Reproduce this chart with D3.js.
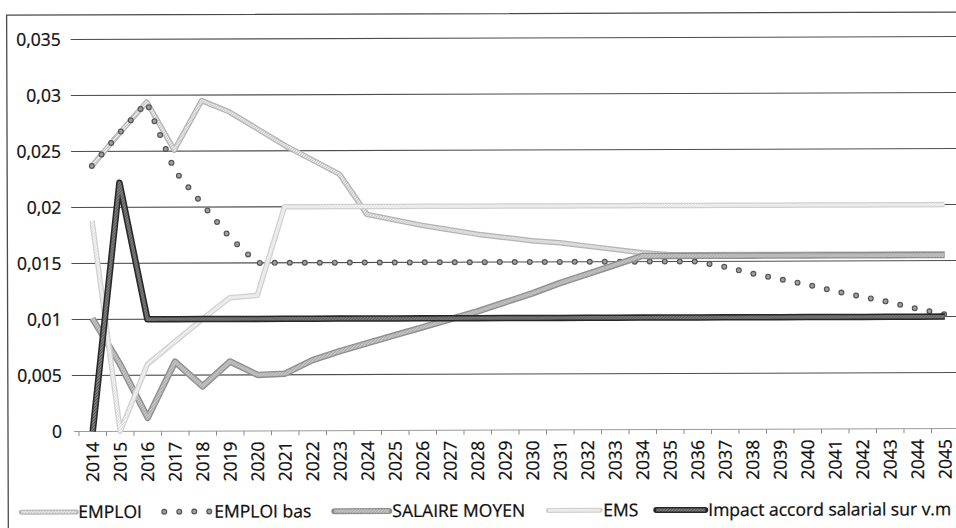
<!DOCTYPE html>
<html><head><meta charset="utf-8">
<script src="https://cdn.jsdelivr.net/npm/d3@7"></script>
<style>
body{margin:0;background:#fff}
svg{display:block}
text{font-family:"Open Sans",sans-serif;fill:#0d0d0d;stroke:#0d0d0d;stroke-width:0.25px}
</style>
</head><body>
<svg id="c" width="956" height="528"></svg>
<script>
const years = [2014,2015,2016,2017,2018,2019,2020,2021,2022,2023,2024,2025,2026,2027,2028,2029,2030,2031,2032,2033,2034,2035,2036,2037,2038,2039,2040,2041,2042,2043,2044,2045];
const emploi = [0.0237,0.0266,0.0294,0.0251,0.0295,0.0285,0.0270,0.0255,0.0242,0.0229,0.0193,0.0188,0.0183,0.0179,0.0175,0.0172,0.0169,0.0167,0.0164,0.0161,0.0158,0.0156,0.0156,0.0156,0.0156,0.0156,0.0156,0.0156,0.0156,0.0156,0.0156,0.0156];
const emploiBas = [0.0237,0.0266,0.0294,0.0233,0.0203,0.0173,0.0150,0.0150,0.0150,0.0150,0.0150,0.0150,0.0150,0.0150,0.0150,0.0150,0.0150,0.0150,0.0150,0.0150,0.0150,0.0150,0.0150,0.0145,0.0139,0.0134,0.0129,0.0123,0.0118,0.0113,0.0107,0.0102];
const salaireMoyen = [0.0101,0.0060,0.0012,0.0062,0.0040,0.0062,0.0050,0.0051,0.0063,0.0071,0.0078,0.0085,0.0092,0.0099,0.0106,0.0114,0.0122,0.0131,0.0139,0.0147,0.0155,0.0155,0.0155,0.0155,0.0155,0.0155,0.0155,0.0155,0.0155,0.0155,0.0155,0.0155];
const ems = [0.0188,0.0000,0.0060,0.0080,0.0100,0.0119,0.0121,0.0200,0.0200,0.0200,0.0200,0.0200,0.0200,0.0200,0.0200,0.0200,0.0200,0.0200,0.0200,0.0200,0.0200,0.0200,0.0200,0.0200,0.0200,0.0200,0.0200,0.0200,0.0200,0.0200,0.0200,0.0200];
const impact = [0.0000,0.0222,0.0100,0.0100,0.0100,0.0100,0.0100,0.0100,0.0100,0.0100,0.0100,0.0100,0.0100,0.0100,0.0100,0.0100,0.0100,0.0100,0.0100,0.0100,0.0100,0.0100,0.0100,0.0100,0.0100,0.0100,0.0100,0.0100,0.0100,0.0100,0.0100,0.0100];
const yTicks = [0,0.005,0.01,0.015,0.02,0.025,0.03,0.035];
const yTickLabels = ["0","0,005","0,01","0,015","0,02","0,025","0,03","0,035"];
const seriesNames = ["EMPLOI","EMPLOI bas","SALAIRE MOYEN","EMS","Impact accord salarial sur v.m"];

const svg = d3.select("#c");
const defs = svg.append("defs");
function pat(id, bg, fg){
  const p = defs.append("pattern").attr("id",id).attr("patternUnits","userSpaceOnUse").attr("width",3).attr("height",3);
  p.append("rect").attr("width",3).attr("height",3).attr("fill",bg);
  p.append("rect").attr("x",0).attr("y",0).attr("width",1).attr("height",1).attr("fill",fg);
  p.append("rect").attr("x",2).attr("y",1).attr("width",1).attr("height",1).attr("fill",fg);
  p.append("rect").attr("x",1).attr("y",2).attr("width",1).attr("height",1).attr("fill",fg);
}
pat("pEmploi","#ececec","#b9b9b9");
pat("pEms","#f6f6f6","#d6d6d6");
pat("pSal","#c9c9c9","#9c9c9c");
pat("pImp","#808080","#4a4a4a");

const g = svg.append("g").attr("transform","rotate(-0.19,72,431)");

// frame
g.append("path").attr("d","M8,540V15H970").attr("fill","none").attr("stroke","#4a4a4a").attr("stroke-width",1.3);

const x = d3.scaleBand().domain(years).range([79,959]).paddingInner(0).paddingOuter(0);
const y = d3.scaleLinear().domain([0,0.035]).range([431.5,39.5]);
const cx = d => x(d) + x.bandwidth()/2;

// gridlines
g.append("g").selectAll("line").data(yTicks.filter(v=>v>0)).join("line")
  .attr("x1",72).attr("x2",970).attr("y1",d=>y(d)).attr("y2",d=>y(d))
  .attr("stroke","#4d4d4d").attr("stroke-width",1.1);

// zero axis + boundary ticks
g.append("line").attr("x1",74).attr("x2",970).attr("y1",y(0)).attr("y2",y(0)).attr("stroke","#9a9a9a").attr("stroke-width",1);
g.append("g").selectAll("line").data(years).join("line")
  .attr("x1",d=>x(d)).attr("x2",d=>x(d)).attr("y1",y(0)).attr("y2",y(0)+4.5)
  .attr("stroke","#8a8a8a").attr("stroke-width",1);

// y axis labels
const ya = g.append("g").attr("transform","translate(72,0)")
  .call(d3.axisLeft(y).tickValues(yTicks).tickFormat((d,i)=>yTickLabels[i]).tickSize(0).tickPadding(10));
ya.select(".domain").remove();
ya.selectAll("text").attr("font-size",17.5).attr("font-family","'Open Sans',sans-serif").attr("fill","#0d0d0d");

// x axis labels
const xa = g.append("g").attr("transform",`translate(0,${y(0)})`)
  .call(d3.axisBottom(x).tickSize(0));
xa.select(".domain").remove();
xa.selectAll("text").attr("font-size",17.5).attr("font-family","'Open Sans',sans-serif").attr("fill","#0d0d0d")
  .attr("transform","rotate(-90)").attr("text-anchor","end").attr("x",-10.5).attr("y",0).attr("dy","0.35em");

const line = d3.line().x((d,i)=>cx(years[i])).y(d=>y(d));

function drawTextured(data, outer, ow, inner, iw){
  g.append("path").attr("d",line(data)).attr("fill","none").attr("stroke",outer).attr("stroke-width",ow).attr("stroke-linejoin","round");
  g.append("path").attr("d",line(data)).attr("fill","none").attr("stroke",inner).attr("stroke-width",iw).attr("stroke-linejoin","round");
}
function drawDots(d){
  g.append("path").attr("d",d).attr("fill","none").attr("stroke","#555").attr("stroke-width",6)
    .attr("stroke-linecap","round").attr("stroke-dasharray","0 15");
  g.append("path").attr("d",d).attr("fill","none").attr("stroke","#a0a0a0").attr("stroke-width",3.6)
    .attr("stroke-linecap","round").attr("stroke-dasharray","0 15");
}

drawTextured(emploi, "#b3b3b3", 5.5, "url(#pEmploi)", 3);
drawDots(line(emploiBas));
drawTextured(salaireMoyen, "#8e8e8e", 6.5, "url(#pSal)", 3.8);
drawTextured(ems, "#d0d0d0", 5.5, "url(#pEms)", 3);
drawTextured(impact, "#262626", 6.5, "url(#pImp)", 3.4);

// legend
const ly = 512;
const legend = [
  {name:seriesNames[0], x0:21, x1:76, tx:78, type:"tex", outer:"#b3b3b3", ow:5, inner:"url(#pEmploi)", iw:2.6},
  {name:seriesNames[1], x0:164, x1:211, tx:214, type:"dots"},
  {name:seriesNames[2], x0:334, x1:389, tx:392, type:"tex", outer:"#8e8e8e", ow:6, inner:"url(#pSal)", iw:3.4},
  {name:seriesNames[3], x0:548, x1:600, tx:603, type:"tex", outer:"#d0d0d0", ow:5, inner:"url(#pEms)", iw:2.6},
  {name:seriesNames[4], x0:656, x1:705, tx:708, type:"tex", outer:"#262626", ow:6, inner:"url(#pImp)", iw:3}
];
legend.forEach(l=>{
  const d = `M${l.x0},${ly}H${l.x1}`;
  if(l.type==="dots"){ drawDots(d); }
  else {
    g.append("path").attr("d",d).attr("stroke",l.outer).attr("stroke-width",l.ow).attr("stroke-linecap","round");
    g.append("path").attr("d",d).attr("stroke",l.inner).attr("stroke-width",l.iw);
  }
  g.append("text").attr("x",l.tx).attr("y",ly).attr("dy","0.35em").attr("font-size",17.5).text(l.name);
});
</script>
</body></html>
